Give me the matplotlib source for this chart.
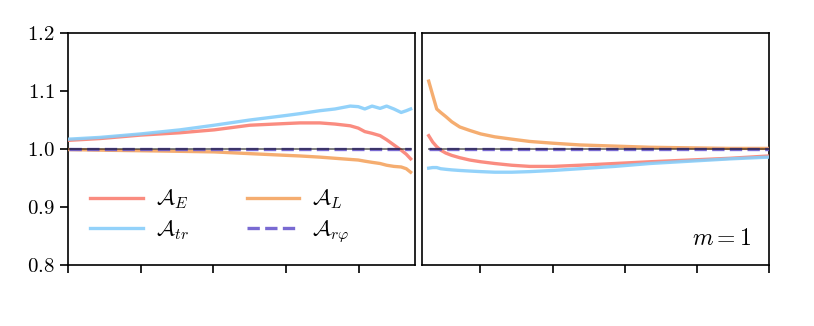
import matplotlib
matplotlib.use("Agg")
import matplotlib.pyplot as plt

plt.rcParams["mathtext.fontset"] = "cm"
plt.rcParams["font.family"] = ["DejaVu Serif"]

# left panel
x_left = [0.014, 0.44, 1.0, 1.54, 2.01, 2.50, 3.01, 3.19, 3.46, 3.67, 3.88,
          3.99, 4.08, 4.18, 4.29, 4.38, 4.48, 4.58, 4.65, 4.71]
aE_left = [1.015, 1.018, 1.024, 1.028, 1.033, 1.041, 1.044, 1.045, 1.045, 1.043, 1.040,
           1.036, 1.030, 1.027, 1.023, 1.016, 1.007, 0.998, 0.991, 0.983]
atr_left = [1.017, 1.020, 1.026, 1.033, 1.041, 1.050, 1.058, 1.061, 1.066, 1.069, 1.074,
            1.073, 1.069, 1.074, 1.070, 1.074, 1.069, 1.063, 1.066, 1.069]
aL_left = [0.999, 0.998, 0.997, 0.996, 0.995, 0.992, 0.989, 0.988, 0.986, 0.984, 0.982,
           0.981, 0.979, 0.977, 0.975, 0.972, 0.970, 0.969, 0.966, 0.960]

# right panel (m = 1)
x_right = [0.283, 0.338, 0.394, 0.449, 0.519, 0.602, 0.713, 0.852, 1.004, 1.198,
           1.434, 1.684, 2.003, 2.377, 2.863, 3.349, 3.904, 4.459, 4.999]
aE_right = [1.023, 1.012, 1.004, 0.998, 0.993, 0.989, 0.985, 0.981, 0.978, 0.975,
            0.972, 0.970, 0.970, 0.972, 0.975, 0.978, 0.981, 0.984, 0.988]
atr_right = [0.967, 0.968, 0.968, 0.966, 0.965, 0.964, 0.963, 0.962, 0.961, 0.960,
             0.960, 0.961, 0.963, 0.966, 0.970, 0.975, 0.979, 0.983, 0.986]
aL_right = [1.117, 1.093, 1.069, 1.063, 1.056, 1.047, 1.038, 1.032, 1.026, 1.021,
            1.017, 1.013, 1.010, 1.007, 1.005, 1.003, 1.002, 1.001, 1.001]

y_ticks = [0.8, 0.9, 1.0, 1.1, 1.2]
y_ticklabels = ["$0.8$", "$0.9$", "$1.0$", "$1.1$", "$1.2$"]

labels = [r"$\mathcal{A}_E$", r"$\mathcal{A}_{tr}$", r"$\mathcal{A}_L$", r"$\mathcal{A}_{r\varphi}$"]
colors = ["salmon", "lightskyblue", "sandybrown", "slateblue"]

fig = plt.figure(figsize=(8.14, 3.26), dpi=100)
ax_l = fig.add_axes([68 / 814, 61 / 326, 347 / 814, 232 / 326])
ax_r = fig.add_axes([422 / 814, 61 / 326, 347 / 814, 232 / 326])


def draw_panel(ax, x, a_e, a_tr, a_l):
    ones = [1.0 for _ in x]
    lines = []
    lines += ax.plot(x, a_e, color=colors[0], lw=2.4, alpha=0.9, label=labels[0], zorder=3)
    lines += ax.plot(x, a_tr, color=colors[1], lw=2.4, alpha=0.9, label=labels[1], zorder=3)
    lines += ax.plot(x, a_l, color=colors[2], lw=2.4, alpha=0.9, label=labels[2], zorder=3)
    lines += ax.plot(x, ones, color=colors[3], lw=2.4, ls="--", alpha=0.9, label=labels[3], zorder=4)
    # reference line at unity drawn over the dashes
    ax.plot(x, ones, color="black", lw=1.3, alpha=0.55, zorder=5)
    ax.set_ylim(0.8, 1.2)
    for sp in ax.spines.values():
        sp.set_linewidth(1.2)
    ax.tick_params(direction="out", length=6, width=1.2)
    return lines


lines = draw_panel(ax_l, x_left, aE_left, atr_left, aL_left)
draw_panel(ax_r, x_right, aE_right, atr_right, aL_right)

ax_l.set_xlim(0, 4.77)
ax_l.set_xticks([0, 1, 2, 3, 4])
ax_l.set_xticklabels([])
ax_l.set_yticks(y_ticks)
ax_l.set_yticklabels(y_ticklabels, fontsize=15)

ax_r.set_xlim(0.19, 5)
ax_r.set_xticks([1, 2, 3, 4, 5])
ax_r.set_xticklabels([])
ax_r.set_yticks([])

ax_l.legend(lines, labels, ncol=2, frameon=False, fontsize=16, loc="lower left",
            bbox_to_anchor=(0.02, 0.02), handlelength=2.35, handletextpad=0.6,
            columnspacing=2.6, labelspacing=0.3, borderpad=0.2)

ax_r.text(0.95, 0.116, "$m = 1$", transform=ax_r.transAxes, ha="right", va="center",
          fontsize=17)

fig.savefig("out.png", dpi=100)
